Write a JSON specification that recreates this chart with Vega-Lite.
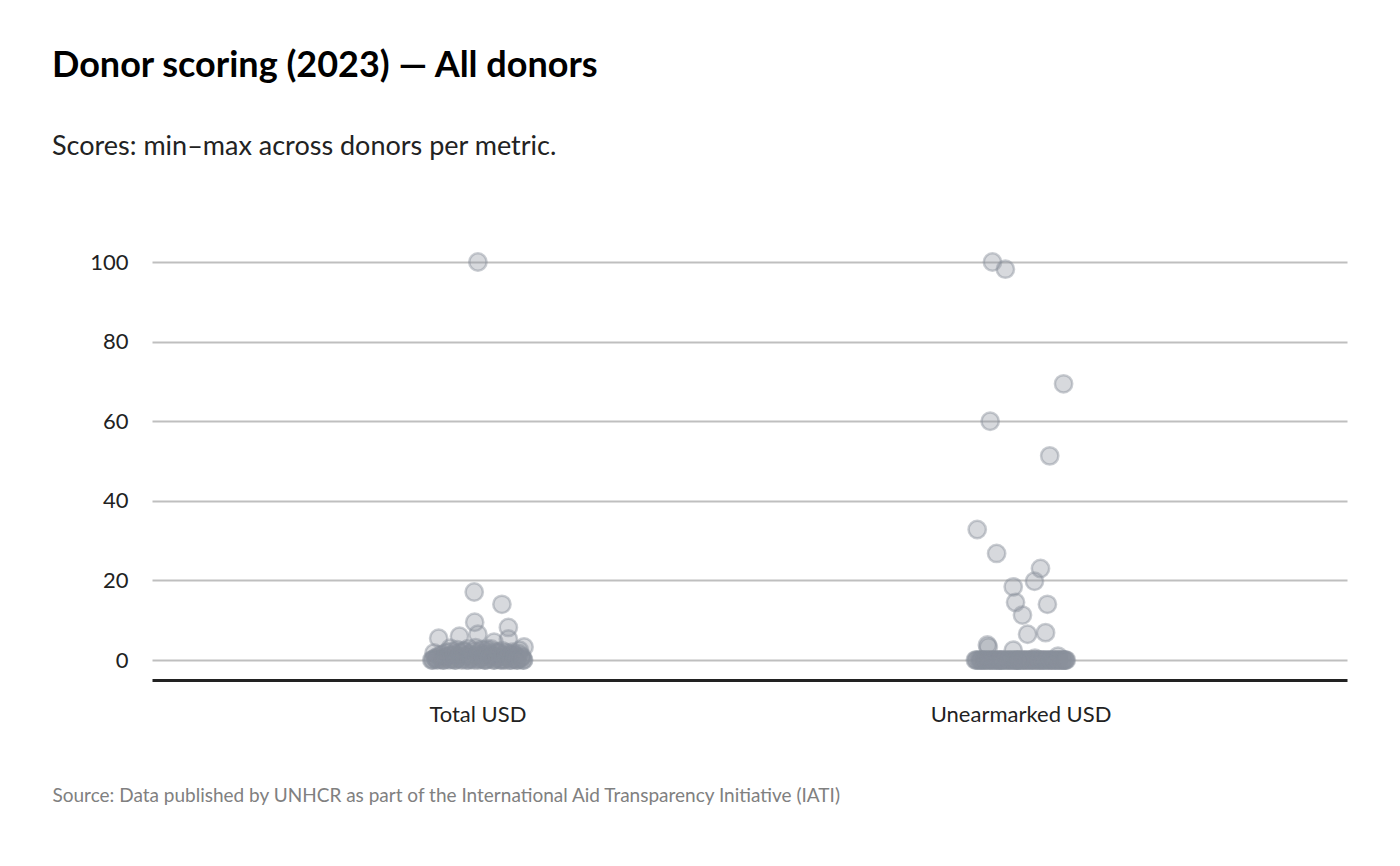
{
  "$schema": "https://vega.github.io/schema/vega-lite/v6.json",
  "width": 1195,
  "height": 418,
  "padding": {"left": 52, "top": 48, "right": 53, "bottom": 40},
  "background": "white",
  "title": {
    "text": "Donor scoring (2023) — All donors",
    "subtitle": "Scores: min–max across donors per metric.",
    "anchor": "start",
    "frame": "bounds",
    "font": "Lato",
    "fontSize": 36,
    "fontWeight": "bold",
    "color": "#000000",
    "subtitleFont": "Lato",
    "subtitleFontSize": 27,
    "subtitleColor": "#222222",
    "subtitlePadding": 49,
    "offset": 87
  },
  "config": {
    "view": {"stroke": null},
    "font": "Lato"
  },
  "datasets": {
    "donors": [
      {"metric": "Total USD", "score": 100, "jitter": 0.0},
      {"metric": "Total USD", "score": 17.1, "jitter": -0.08},
      {"metric": "Total USD", "score": 14.0, "jitter": 0.52},
      {"metric": "Total USD", "score": 9.5, "jitter": -0.07},
      {"metric": "Total USD", "score": 8.2, "jitter": 0.66},
      {"metric": "Total USD", "score": 6.5, "jitter": 0.0},
      {"metric": "Total USD", "score": 6.0, "jitter": -0.4},
      {"metric": "Total USD", "score": 5.5, "jitter": -0.85},
      {"metric": "Total USD", "score": 5.3, "jitter": 0.66},
      {"metric": "Total USD", "score": 4.5, "jitter": 0.35},
      {"metric": "Total USD", "score": 3.3, "jitter": 1.0},
      {"metric": "Total USD", "score": 3.0, "jitter": -0.6},
      {"metric": "Total USD", "score": 2.8, "jitter": 0.2},
      {"metric": "Total USD", "score": 2.5, "jitter": 0.9},
      {"metric": "Total USD", "score": 2.2, "jitter": -0.3},
      {"metric": "Total USD", "score": 2.0, "jitter": 0.45},
      {"metric": "Total USD", "score": 1.8, "jitter": -0.95},
      {"metric": "Total USD", "score": 1.5, "jitter": 0.1},
      {"metric": "Total USD", "score": 1.4, "jitter": 0.75},
      {"metric": "Total USD", "score": 1.2, "jitter": -0.5},
      {"metric": "Total USD", "score": 1.0, "jitter": 0.3},
      {"metric": "Total USD", "score": 1.0, "jitter": -0.2},
      {"metric": "Total USD", "score": 0.8, "jitter": 0.6},
      {"metric": "Total USD", "score": 0.7, "jitter": -0.7},
      {"metric": "Total USD", "score": 0.6, "jitter": 0.95},
      {"metric": "Total USD", "score": 0.5, "jitter": 0.05},
      {"metric": "Total USD", "score": 0.4, "jitter": -0.45},
      {"metric": "Total USD", "score": 0.3, "jitter": 0.4},
      {"metric": "Total USD", "score": 0.3, "jitter": -0.9},
      {"metric": "Total USD", "score": 0.2, "jitter": 0.8},
      {"metric": "Total USD", "score": 0.2, "jitter": -0.15},
      {"metric": "Total USD", "score": 0.1, "jitter": 0.55},
      {"metric": "Total USD", "score": 0.1, "jitter": -0.6},
      {"metric": "Total USD", "score": 0.1, "jitter": 0.2},
      {"metric": "Total USD", "score": 0, "jitter": -1.0},
      {"metric": "Total USD", "score": 0, "jitter": -0.75},
      {"metric": "Total USD", "score": 0, "jitter": -0.35},
      {"metric": "Total USD", "score": 0, "jitter": 0.0},
      {"metric": "Total USD", "score": 0, "jitter": 0.35},
      {"metric": "Total USD", "score": 0, "jitter": 0.7},
      {"metric": "Total USD", "score": 0, "jitter": 0.99},
      {"metric": "Total USD", "score": 0, "jitter": -0.5},
      {"metric": "Total USD", "score": 0, "jitter": 0.5},
      {"metric": "Total USD", "score": 0, "jitter": -0.2},
      {"metric": "Total USD", "score": 0, "jitter": 0.15},
      {"metric": "Total USD", "score": 0, "jitter": 0.85},
      {"metric": "Total USD", "score": 0, "jitter": -0.98},
      {"metric": "Total USD", "score": 0.3, "jitter": -0.95},
      {"metric": "Total USD", "score": 0.6, "jitter": -0.91},
      {"metric": "Total USD", "score": 0, "jitter": -0.88},
      {"metric": "Total USD", "score": 1.0, "jitter": -0.85},
      {"metric": "Total USD", "score": 0.2, "jitter": -0.81},
      {"metric": "Total USD", "score": 1.4, "jitter": -0.78},
      {"metric": "Total USD", "score": 0, "jitter": -0.75},
      {"metric": "Total USD", "score": 0.8, "jitter": -0.71},
      {"metric": "Total USD", "score": 1.9, "jitter": -0.68},
      {"metric": "Total USD", "score": 0.1, "jitter": -0.65},
      {"metric": "Total USD", "score": 1.2, "jitter": -0.61},
      {"metric": "Total USD", "score": 2.2, "jitter": -0.58},
      {"metric": "Total USD", "score": 0.4, "jitter": -0.55},
      {"metric": "Total USD", "score": 1.6, "jitter": -0.51},
      {"metric": "Total USD", "score": 0, "jitter": -0.48},
      {"metric": "Total USD", "score": 2.6, "jitter": -0.45},
      {"metric": "Total USD", "score": 0.9, "jitter": -0.41},
      {"metric": "Total USD", "score": 1.8, "jitter": -0.38},
      {"metric": "Total USD", "score": 0.3, "jitter": -0.35},
      {"metric": "Total USD", "score": 2.4, "jitter": -0.31},
      {"metric": "Total USD", "score": 1.1, "jitter": -0.28},
      {"metric": "Total USD", "score": 0, "jitter": -0.25},
      {"metric": "Total USD", "score": 2.9, "jitter": -0.21},
      {"metric": "Total USD", "score": 1.5, "jitter": -0.18},
      {"metric": "Total USD", "score": 0.6, "jitter": -0.15},
      {"metric": "Total USD", "score": 2.2, "jitter": -0.11},
      {"metric": "Total USD", "score": 0, "jitter": -0.08},
      {"metric": "Total USD", "score": 3.1, "jitter": -0.05},
      {"metric": "Total USD", "score": 1.3, "jitter": -0.01},
      {"metric": "Total USD", "score": 2.0, "jitter": 0.02},
      {"metric": "Total USD", "score": 0.2, "jitter": 0.05},
      {"metric": "Total USD", "score": 2.7, "jitter": 0.09},
      {"metric": "Total USD", "score": 1.0, "jitter": 0.12},
      {"metric": "Total USD", "score": 0, "jitter": 0.15},
      {"metric": "Total USD", "score": 2.3, "jitter": 0.19},
      {"metric": "Total USD", "score": 1.6, "jitter": 0.22},
      {"metric": "Total USD", "score": 0.5, "jitter": 0.25},
      {"metric": "Total USD", "score": 2.8, "jitter": 0.29},
      {"metric": "Total USD", "score": 1.2, "jitter": 0.32},
      {"metric": "Total USD", "score": 0, "jitter": 0.35},
      {"metric": "Total USD", "score": 2.1, "jitter": 0.39},
      {"metric": "Total USD", "score": 0.8, "jitter": 0.42},
      {"metric": "Total USD", "score": 1.7, "jitter": 0.45},
      {"metric": "Total USD", "score": 0.1, "jitter": 0.49},
      {"metric": "Total USD", "score": 2.4, "jitter": 0.52},
      {"metric": "Total USD", "score": 1.0, "jitter": 0.55},
      {"metric": "Total USD", "score": 0, "jitter": 0.59},
      {"metric": "Total USD", "score": 1.9, "jitter": 0.62},
      {"metric": "Total USD", "score": 0.6, "jitter": 0.65},
      {"metric": "Total USD", "score": 1.4, "jitter": 0.69},
      {"metric": "Total USD", "score": 0, "jitter": 0.72},
      {"metric": "Total USD", "score": 2.0, "jitter": 0.75},
      {"metric": "Total USD", "score": 0.4, "jitter": 0.79},
      {"metric": "Total USD", "score": 1.1, "jitter": 0.82},
      {"metric": "Total USD", "score": 0, "jitter": 0.85},
      {"metric": "Total USD", "score": 1.6, "jitter": 0.89},
      {"metric": "Total USD", "score": 0.3, "jitter": 0.92},
      {"metric": "Total USD", "score": 0.9, "jitter": 0.95},
      {"metric": "Total USD", "score": 0, "jitter": 0.98},
      {"metric": "Unearmarked USD", "score": 100, "jitter": -0.62},
      {"metric": "Unearmarked USD", "score": 98.2, "jitter": -0.34},
      {"metric": "Unearmarked USD", "score": 69.4, "jitter": 0.92},
      {"metric": "Unearmarked USD", "score": 60.0, "jitter": -0.67},
      {"metric": "Unearmarked USD", "score": 51.3, "jitter": 0.62},
      {"metric": "Unearmarked USD", "score": 32.8, "jitter": -0.95},
      {"metric": "Unearmarked USD", "score": 26.8, "jitter": -0.53},
      {"metric": "Unearmarked USD", "score": 23.0, "jitter": 0.42},
      {"metric": "Unearmarked USD", "score": 19.8, "jitter": 0.29},
      {"metric": "Unearmarked USD", "score": 18.4, "jitter": -0.17},
      {"metric": "Unearmarked USD", "score": 14.5, "jitter": -0.12},
      {"metric": "Unearmarked USD", "score": 14.0, "jitter": 0.57},
      {"metric": "Unearmarked USD", "score": 11.3, "jitter": 0.03},
      {"metric": "Unearmarked USD", "score": 6.9, "jitter": 0.53},
      {"metric": "Unearmarked USD", "score": 6.5, "jitter": 0.14},
      {"metric": "Unearmarked USD", "score": 3.8, "jitter": -0.73},
      {"metric": "Unearmarked USD", "score": 3.3, "jitter": -0.71},
      {"metric": "Unearmarked USD", "score": 2.5, "jitter": -0.17},
      {"metric": "Unearmarked USD", "score": 1.0, "jitter": 0.8},
      {"metric": "Unearmarked USD", "score": 0.5, "jitter": 0.3},
      {"metric": "Unearmarked USD", "score": 0, "jitter": -0.97},
      {"metric": "Unearmarked USD", "score": 0, "jitter": -0.88},
      {"metric": "Unearmarked USD", "score": 0, "jitter": -0.8},
      {"metric": "Unearmarked USD", "score": 0, "jitter": -0.72},
      {"metric": "Unearmarked USD", "score": 0, "jitter": -0.64},
      {"metric": "Unearmarked USD", "score": 0, "jitter": -0.55},
      {"metric": "Unearmarked USD", "score": 0, "jitter": -0.47},
      {"metric": "Unearmarked USD", "score": 0, "jitter": -0.39},
      {"metric": "Unearmarked USD", "score": 0, "jitter": -0.3},
      {"metric": "Unearmarked USD", "score": 0, "jitter": -0.22},
      {"metric": "Unearmarked USD", "score": 0, "jitter": -0.14},
      {"metric": "Unearmarked USD", "score": 0, "jitter": -0.06},
      {"metric": "Unearmarked USD", "score": 0, "jitter": 0.02},
      {"metric": "Unearmarked USD", "score": 0, "jitter": 0.1},
      {"metric": "Unearmarked USD", "score": 0, "jitter": 0.18},
      {"metric": "Unearmarked USD", "score": 0, "jitter": 0.26},
      {"metric": "Unearmarked USD", "score": 0, "jitter": 0.35},
      {"metric": "Unearmarked USD", "score": 0, "jitter": 0.43},
      {"metric": "Unearmarked USD", "score": 0, "jitter": 0.51},
      {"metric": "Unearmarked USD", "score": 0, "jitter": 0.6},
      {"metric": "Unearmarked USD", "score": 0, "jitter": 0.68},
      {"metric": "Unearmarked USD", "score": 0, "jitter": 0.76},
      {"metric": "Unearmarked USD", "score": 0, "jitter": 0.84},
      {"metric": "Unearmarked USD", "score": 0, "jitter": 0.92},
      {"metric": "Unearmarked USD", "score": 0, "jitter": 0.96},
      {"metric": "Unearmarked USD", "score": 0, "jitter": -0.5},
      {"metric": "Unearmarked USD", "score": 0, "jitter": -0.99},
      {"metric": "Unearmarked USD", "score": 0, "jitter": -0.94},
      {"metric": "Unearmarked USD", "score": 0, "jitter": -0.9},
      {"metric": "Unearmarked USD", "score": 0, "jitter": -0.86},
      {"metric": "Unearmarked USD", "score": 0, "jitter": -0.83},
      {"metric": "Unearmarked USD", "score": 0, "jitter": -0.78},
      {"metric": "Unearmarked USD", "score": 0, "jitter": -0.75},
      {"metric": "Unearmarked USD", "score": 0, "jitter": -0.69},
      {"metric": "Unearmarked USD", "score": 0, "jitter": -0.66},
      {"metric": "Unearmarked USD", "score": 0, "jitter": -0.61},
      {"metric": "Unearmarked USD", "score": 0, "jitter": -0.58},
      {"metric": "Unearmarked USD", "score": 0, "jitter": -0.53},
      {"metric": "Unearmarked USD", "score": 0, "jitter": -0.44},
      {"metric": "Unearmarked USD", "score": 0, "jitter": -0.42},
      {"metric": "Unearmarked USD", "score": 0, "jitter": -0.36},
      {"metric": "Unearmarked USD", "score": 0, "jitter": -0.33},
      {"metric": "Unearmarked USD", "score": 0, "jitter": -0.27},
      {"metric": "Unearmarked USD", "score": 0, "jitter": -0.25},
      {"metric": "Unearmarked USD", "score": 0, "jitter": -0.19},
      {"metric": "Unearmarked USD", "score": 0, "jitter": -0.16},
      {"metric": "Unearmarked USD", "score": 0, "jitter": -0.1},
      {"metric": "Unearmarked USD", "score": 0, "jitter": -0.08},
      {"metric": "Unearmarked USD", "score": 0, "jitter": -0.02},
      {"metric": "Unearmarked USD", "score": 0, "jitter": 0.05},
      {"metric": "Unearmarked USD", "score": 0, "jitter": 0.07},
      {"metric": "Unearmarked USD", "score": 0, "jitter": 0.13},
      {"metric": "Unearmarked USD", "score": 0, "jitter": 0.16},
      {"metric": "Unearmarked USD", "score": 0, "jitter": 0.22},
      {"metric": "Unearmarked USD", "score": 0, "jitter": 0.24},
      {"metric": "Unearmarked USD", "score": 0, "jitter": 0.3},
      {"metric": "Unearmarked USD", "score": 0, "jitter": 0.33},
      {"metric": "Unearmarked USD", "score": 0, "jitter": 0.39},
      {"metric": "Unearmarked USD", "score": 0, "jitter": 0.41},
      {"metric": "Unearmarked USD", "score": 0, "jitter": 0.47},
      {"metric": "Unearmarked USD", "score": 0, "jitter": 0.49},
      {"metric": "Unearmarked USD", "score": 0, "jitter": 0.55},
      {"metric": "Unearmarked USD", "score": 0, "jitter": 0.58},
      {"metric": "Unearmarked USD", "score": 0, "jitter": 0.64},
      {"metric": "Unearmarked USD", "score": 0, "jitter": 0.66},
      {"metric": "Unearmarked USD", "score": 0, "jitter": 0.72},
      {"metric": "Unearmarked USD", "score": 0, "jitter": 0.74},
      {"metric": "Unearmarked USD", "score": 0, "jitter": 0.8},
      {"metric": "Unearmarked USD", "score": 0, "jitter": 0.82},
      {"metric": "Unearmarked USD", "score": 0, "jitter": 0.88},
      {"metric": "Unearmarked USD", "score": 0, "jitter": 0.9},
      {"metric": "Unearmarked USD", "score": 0, "jitter": 0.95},
      {"metric": "Unearmarked USD", "score": 0, "jitter": 0.98},
      {"metric": "Unearmarked USD", "score": 0, "jitter": -0.03},
      {"metric": "Unearmarked USD", "score": 0, "jitter": -0.46}
    ]
  },
  "data": {"name": "donors"},
  "mark": {
    "type": "point",
    "shape": "circle",
    "filled": false,
    "fill": "#8a919c",
    "stroke": "#8a919c",
    "fillOpacity": 0.34,
    "strokeOpacity": 0.45,
    "strokeWidth": 2.5,
    "size": 300
  },
  "encoding": {
    "x": {
      "field": "metric",
      "type": "nominal",
      "sort": ["Total USD", "Unearmarked USD"],
      "scale": {"paddingInner": 0.83, "paddingOuter": 0.515},
      "axis": {
        "title": "Source: Data published by UNHCR as part of the International Aid Transparency Initiative (IATI)",
        "titleFont": "Lato",
        "titleFontSize": 19,
        "titleFontWeight": "normal",
        "titleColor": "#808080",
        "titleAlign": "left",
        "titleAnchor": "start",
        "titleX": -100,
        "titleY": 121,
        "titleBaseline": "alphabetic",
        "titleLimit": 1200,
        "labelAngle": 0,
        "labelFont": "Lato",
        "labelFontSize": 22,
        "labelColor": "#222222",
        "labelPadding": 24,
        "labelLimit": 400,
        "ticks": false,
        "domainColor": "#222222",
        "domainWidth": 3,
        "grid": false
      }
    },
    "xOffset": {
      "field": "jitter",
      "type": "quantitative",
      "scale": {"domain": [-1, 1]}
    },
    "y": {
      "field": "score",
      "type": "quantitative",
      "scale": {"domain": [-5, 100], "nice": false, "zero": false},
      "axis": {
        "title": null,
        "values": [0, 20, 40, 60, 80, 100],
        "domain": false,
        "ticks": false,
        "grid": true,
        "gridColor": "#bfbfbf",
        "gridWidth": 2,
        "labelFont": "Lato",
        "labelFontSize": 22,
        "labelColor": "#222222",
        "labelPadding": 24,
        "minExtent": 100
      }
    }
  }
}
